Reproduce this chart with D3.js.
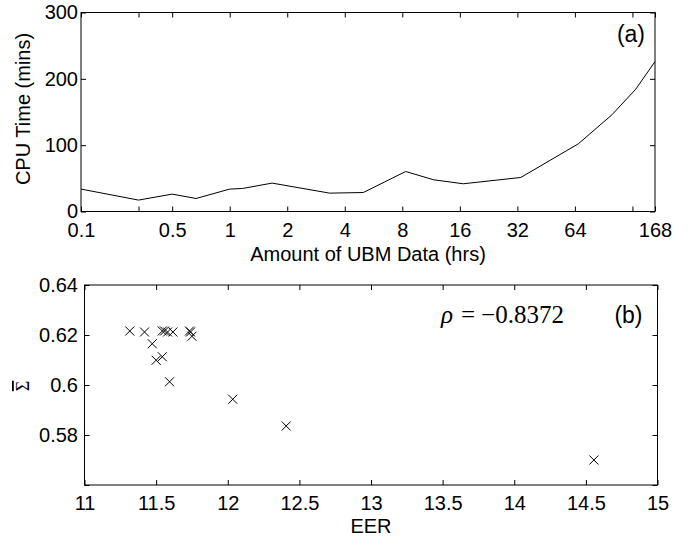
<!DOCTYPE html>
<html>
<head>
<meta charset="utf-8">
<script src="https://cdn.jsdelivr.net/npm/d3@7"></script>
<style>
  body { margin: 0; background: #fff; }
  svg text { font-family: "Liberation Sans", Arial, sans-serif; fill: #000; }
  svg text.math { font-family: "Liberation Serif", "DejaVu Serif", serif; }
  .axis path.domain { display: none; }
  .axis line { stroke: #000; }
</style>
</head>
<body>
<div id="chart"></div>
<script>

// panel (a): CPU time against amount of UBM data
const ubmHours = [1/6, 1/3, 0.5, 2/3, 1, 7/6, 5/3, 10/3, 5, 25/3, 35/3, 50/3, 100/3, 200/3, 100, 400/3, 168];
const cpuMins  = [33.8, 17.2, 26.2, 19.6, 33.8, 34.7, 42.8, 27.7, 28.6, 60.3, 47.8, 41.8, 51.3, 102, 145.8, 184.5, 226];
const ubmTicks = [1/6, 1/3, 0.5, 1, 2, 4, 8, 16, 32, 64, 128, 168];
const ubmTickLabels = ['0.1', '', '0.5', '1', '2', '4', '8', '16', '32', '64', '', '168'];
const cpuTicks = [0, 100, 200, 300];
const cpuTickLabels = ['0', '100', '200', '300'];

// panel (b): mean sigma against EER
const eer      = [11.316, 11.419, 11.473, 11.50, 11.543, 11.543, 11.559, 11.58, 11.617, 11.594, 11.733, 11.74, 11.75, 12.035, 12.408, 14.556];
const sigmaBar = [0.6216, 0.6212, 0.6165, 0.6099, 0.6113, 0.6216, 0.6216, 0.6212, 0.6212, 0.6013, 0.6216, 0.6212, 0.6195, 0.5943, 0.5836, 0.5700];
const eerTicks = [11, 11.5, 12, 12.5, 13, 13.5, 14, 14.5, 15];
const eerTickLabels = ['11', '11.5', '12', '12.5', '13', '13.5', '14', '14.5', '15'];
const sigmaTicks = [0.56, 0.58, 0.6, 0.62, 0.64];
const sigmaTickLabels = ['', '0.58', '0.6', '0.62', '0.64'];

const width = 689, height = 538;
const tickLen = 5;
const fontSize = 20;

const svg = d3.select('#chart')
              .append('svg')
              .attr('width', width)
              .attr('height', height)
              .attr('viewBox', [0, 0, width, height]);

function drawFrame(box, x, y, xTicks, xLabels, yTicks, yLabels, yPad) {
    const g = svg.append('g');

    const fmt = function(labels, ticks) {
        return function(d) { return labels[ticks.indexOf(d)]; };
    };

    g.append('g')
        .classed('axis', true)
        .attr('transform', 'translate(0,' + box.bottom + ')')
        .call(d3.axisBottom(x)
                .tickValues(xTicks)
                .tickFormat(fmt(xLabels, xTicks))
                .tickSizeInner(-tickLen)
                .tickSizeOuter(0)
                .tickPadding(11))
        .call(g => g.selectAll('text').attr('font-size', fontSize));

    g.append('g')
        .classed('axis', true)
        .attr('transform', 'translate(0,' + box.top + ')')
        .call(d3.axisTop(x)
                .tickValues(xTicks)
                .tickFormat('')
                .tickSizeInner(-tickLen)
                .tickSizeOuter(0));

    g.append('g')
        .classed('axis', true)
        .attr('transform', 'translate(' + box.left + ',0)')
        .call(d3.axisLeft(y)
                .tickValues(yTicks)
                .tickFormat(fmt(yLabels, yTicks))
                .tickSizeInner(-tickLen)
                .tickSizeOuter(0)
                .tickPadding(yPad))
        .call(g => g.selectAll('text').attr('font-size', fontSize));

    g.append('g')
        .classed('axis', true)
        .attr('transform', 'translate(' + box.right + ',0)')
        .call(d3.axisRight(y)
                .tickValues(yTicks)
                .tickFormat('')
                .tickSizeInner(-tickLen)
                .tickSizeOuter(0));

    g.append('rect')
        .attr('x', box.left)
        .attr('y', box.top)
        .attr('width', box.right - box.left)
        .attr('height', box.bottom - box.top)
        .attr('fill', 'none')
        .attr('stroke', '#000')
        .attr('stroke-width', 1);

    return g;
}

// ---- panel (a)
const boxA = {left: 81, top: 12.5, right: 655, bottom: 211.5};

const xA = d3.scaleLog()
             .base(2)
             .domain([1/6, 168])
             .range([boxA.left, boxA.right]);
const yA = d3.scaleLinear()
             .domain([0, 300])
             .range([boxA.bottom, boxA.top]);

const gA = drawFrame(boxA, xA, yA, ubmTicks, ubmTickLabels, cpuTicks, cpuTickLabels, 3);

gA.append('path')
    .datum(d3.zip(ubmHours, cpuMins))
    .attr('fill', 'none')
    .attr('stroke', '#000')
    .attr('stroke-width', 1)
    .attr('d', d3.line()
                 .x(function(d) { return xA(d[0]); })
                 .y(function(d) { return yA(d[1]); }));

gA.append('text')
    .attr('x', (boxA.left + boxA.right) / 2)
    .attr('y', boxA.bottom + 49)
    .attr('text-anchor', 'middle')
    .attr('font-size', fontSize)
    .text('Amount of UBM Data (hrs)');

gA.append('text')
    .attr('transform', 'translate(30,' + ((boxA.top + boxA.bottom) / 2 - 3) + ') rotate(-90)')
    .attr('text-anchor', 'middle')
    .attr('font-size', fontSize)
    .text('CPU Time (mins)');

gA.append('text')
    .attr('x', boxA.right - 10)
    .attr('y', boxA.top + 29)
    .attr('text-anchor', 'end')
    .attr('font-size', 23)
    .text('(a)');

// ---- panel (b)
const boxB = {left: 84.5, top: 285, right: 657.5, bottom: 485};

const xB = d3.scaleLinear()
             .domain([11, 15])
             .range([boxB.left, boxB.right]);
const yB = d3.scaleLinear()
             .domain([0.56, 0.64])
             .range([boxB.bottom, boxB.top]);

const gB = drawFrame(boxB, xB, yB, eerTicks, eerTickLabels, sigmaTicks, sigmaTickLabels, 6.5);

const m = 4.5;
gB.append('g')
    .selectAll('path.marker')
    .data(d3.zip(eer, sigmaBar))
    .join('path')
    .classed('marker', true)
    .attr('transform', function(d) {
        return 'translate(' + xB(d[0]) + ',' + yB(d[1]) + ')';
    })
    .attr('d', 'M' + -m + ',' + -m + 'L' + m + ',' + m + 'M' + -m + ',' + m + 'L' + m + ',' + -m)
    .attr('fill', 'none')
    .attr('stroke', '#000')
    .attr('stroke-width', 1);

gB.append('text')
    .attr('x', (boxB.left + boxB.right) / 2)
    .attr('y', boxB.bottom + 48)
    .attr('text-anchor', 'middle')
    .attr('font-size', fontSize)
    .text('EER');

// y label: sigma with a bar over it, turned on its side
gB.append('text')
    .classed('math', true)
    .attr('transform', 'translate(29,' + (yB(0.6) + 1) + ') rotate(-90)')
    .attr('text-anchor', 'middle')
    .attr('font-size', 18)
    .style('text-decoration', 'overline')
    .text('\u03A3');

const rho = gB.append('text')
    .classed('math', true)
    .attr('x', 441)
    .attr('y', boxB.top + 38)
    .attr('font-size', 25);
rho.append('tspan')
    .attr('font-style', 'italic')
    .text('\u03C1');
rho.append('tspan')
    .attr('dx', 8)
    .text('=');
rho.append('tspan')
    .attr('dx', 6)
    .text('\u22120.8372');

gB.append('text')
    .attr('x', boxB.right - 15)
    .attr('y', boxB.top + 38)
    .attr('text-anchor', 'end')
    .attr('font-size', 23)
    .text('(b)');

</script>
</body>
</html>
